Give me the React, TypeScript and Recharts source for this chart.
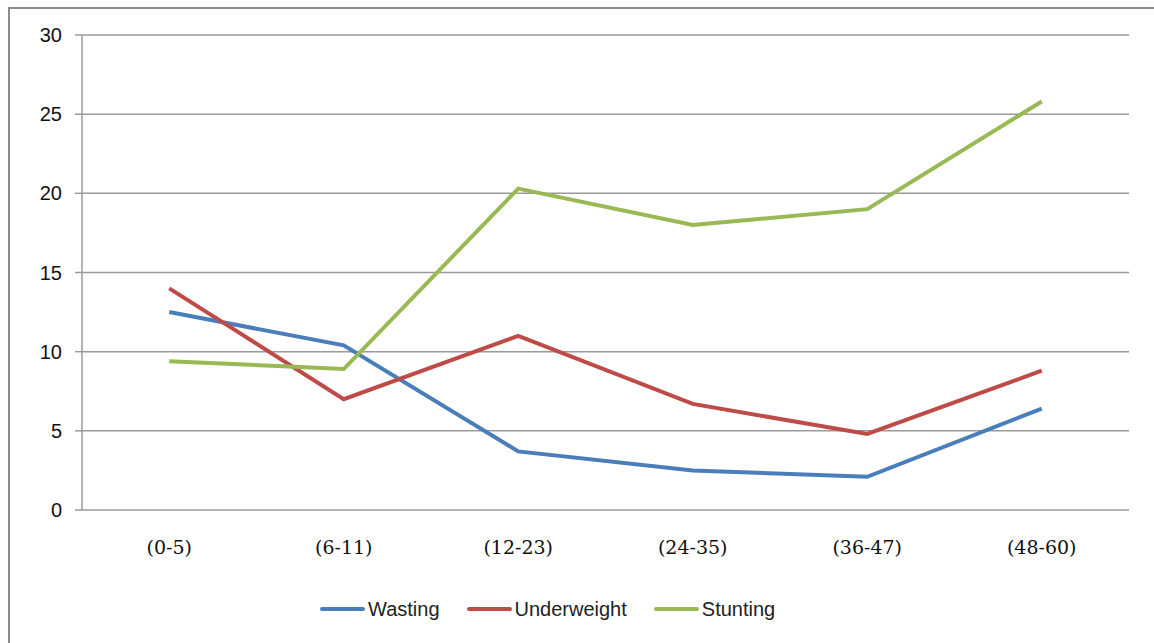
import { LineChart, Line, XAxis, YAxis, CartesianGrid, Legend } from "recharts";

const categories = ["(0-5)", "(6-11)", "(12-23)", "(24-35)", "(36-47)", "(48-60)"];
const wasting = [12.5, 10.4, 3.7, 2.5, 2.1, 6.4];
const underweight = [14.0, 7.0, 11.0, 6.7, 4.8, 8.8];
const stunting = [9.4, 8.9, 20.3, 18.0, 19.0, 25.8];
const yTicks = [0, 5, 10, 15, 20, 25, 30];
const boundTicks = [0, 1, 2, 3, 4, 5, 6];
const labelTicks = [0.5, 1.5, 2.5, 3.5, 4.5, 5.5];

const series = [
  { key: "Wasting", color: "#4A7EBB" },
  { key: "Underweight", color: "#BE4B48" },
  { key: "Stunting", color: "#98B954" },
];

const data = categories.map((c, i) => ({
  pos: i + 0.5,
  cat: c,
  Wasting: wasting[i],
  Underweight: underweight[i],
  Stunting: stunting[i],
}));

const axisGrey = "#9a9a9a";

function LegendContent() {
  return (
    <div style={{ display: "flex", alignItems: "center", height: 26, fontFamily: "Liberation Sans", fontSize: 20, color: "#222" }}>
      {series.map((s, i) => (
        <div key={s.key} style={{ display: "flex", alignItems: "center", marginLeft: i === 0 ? 0 : 27 }}>
          <svg width={45} height={8}>
            <line x1={2} y1={4} x2={43} y2={4} stroke={s.color} strokeWidth={4} strokeLinecap="round" />
          </svg>
          <span style={{ marginLeft: 3, lineHeight: "26px" }}>{s.key}</span>
        </div>
      ))}
    </div>
  );
}

export default function App() {
  return (
    <div style={{ position: "absolute", left: 0, top: 0, width: 1154, height: 643, background: "#fff", overflow: "hidden" }}>
      <div
        style={{
          position: "absolute",
          left: 8,
          top: 7,
          width: 1160,
          height: 660,
          borderTop: "2.5px solid #8c8c8c",
          borderLeft: "2.5px solid #8c8c8c",
        }}
      />
      <LineChart width={1154} height={643} data={data} margin={{ top: 35, right: 25, left: 0, bottom: 73 }}>
        <CartesianGrid vertical={false} stroke={axisGrey} strokeWidth={1.5} xAxisId="labels" />
        <XAxis
          xAxisId="bounds"
          type="number"
          dataKey="pos"
          domain={[0, 6]}
          ticks={boundTicks}
          height={0}
          tickSize={6}
          tickFormatter={() => ""}
          stroke={axisGrey}
          strokeWidth={1.5}
        />
        <XAxis
          xAxisId="labels"
          type="number"
          dataKey="pos"
          domain={[0, 6]}
          ticks={labelTicks}
          height={60}
          axisLine={false}
          tickLine={false}
          tickSize={0}
          tickMargin={31}
          interval={0}
          tickFormatter={(v: number) => categories[Math.floor(v)]}
          tick={{ fill: "#111", fontSize: 19, fontFamily: "DejaVu Serif" }}
        />
        <YAxis
          width={82}
          domain={[0, 30]}
          ticks={yTicks}
          interval={0}
          tickSize={7}
          tickMargin={13}
          stroke={axisGrey}
          strokeWidth={1.5}
          tick={{ fill: "#111", fontSize: 20, fontFamily: "Liberation Sans" }}
        />
        <Legend
          layout="horizontal"
          verticalAlign="middle"
          content={<LegendContent />}
          wrapperStyle={{ left: 320, top: 596, width: 520, height: 26 }}
        />
        {series.map((s) => (
          <Line
            key={s.key}
            xAxisId="labels"
            type="linear"
            dataKey={s.key}
            stroke={s.color}
            strokeWidth={4}
            dot={false}
            isAnimationActive={false}
          />
        ))}
      </LineChart>
    </div>
  );
}
